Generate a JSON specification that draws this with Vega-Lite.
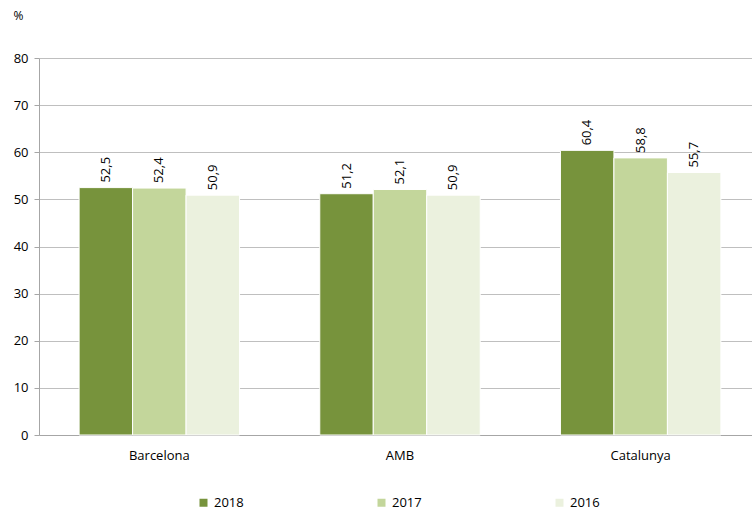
{
  "$schema": "https://vega.github.io/schema/vega-lite/v6.json",
  "autosize": {"type": "none"},
  "width": 713,
  "height": 377,
  "padding": {"left": 39, "top": 58, "right": 0, "bottom": 80},
  "background": "white",
  "config": {
    "locale": {"number": {"decimal": ",", "thousands": ".", "grouping": [3], "currency": ["", " €"]}},
    "font": "Open Sans",
    "view": {"stroke": null}
  },
  "data": {
    "values": [
      {"territori": "Barcelona", "any": "2018", "valor": 52.5},
      {"territori": "Barcelona", "any": "2017", "valor": 52.4},
      {"territori": "Barcelona", "any": "2016", "valor": 50.9},
      {"territori": "AMB", "any": "2018", "valor": 51.2},
      {"territori": "AMB", "any": "2017", "valor": 52.1},
      {"territori": "AMB", "any": "2016", "valor": 50.9},
      {"territori": "Catalunya", "any": "2018", "valor": 60.4},
      {"territori": "Catalunya", "any": "2017", "valor": 58.8},
      {"territori": "Catalunya", "any": "2016", "valor": 55.7}
    ]
  },
  "encoding": {
    "x": {
      "field": "territori", "type": "nominal", "sort": ["Barcelona", "AMB", "Catalunya"],
      "scale": {"paddingInner": 0, "paddingOuter": 0, "range": [0, 722]},
      "axis": {"title": null, "labelAngle": 0, "ticks": false, "domainColor": "#A6A6A6", "labelFontSize": 13, "labelColor": "#000", "labelPadding": 14, "labelFont": "Open Sans"}
    },
    "xOffset": {
      "field": "any", "type": "nominal", "sort": ["2018", "2017", "2016"],
      "scale": {"paddingInner": 0, "paddingOuter": 0.75}
    },
    "y": {
      "field": "valor", "type": "quantitative",
      "scale": {"domain": [0, 80]},
      "axis": {
        "values": [0, 10, 20, 30, 40, 50, 60, 70, 80],
        "title": "%", "titleAngle": 0, "titleX": -21, "titleY": -43, "titleFontSize": 12, "titleFontWeight": "normal", "titleColor": "#000", "titleAlign": "center", "titleBaseline": "middle",
        "gridColor": "#BFBFBF", "domainColor": "#A6A6A6", "tickColor": "#A6A6A6", "tickSize": 5,
        "labelFontSize": 13, "labelColor": "#000", "labelPadding": 6
      }
    }
  },
  "layer": [
    {
      "mark": {"type": "bar", "stroke": "white", "strokeWidth": 1},
      "encoding": {
        "color": {
          "field": "any", "type": "nominal", "sort": ["2018", "2017", "2016"],
          "scale": {"domain": ["2018", "2017", "2016"], "range": ["#77933C", "#C3D69B", "#EBF1DE"]},
          "legend": {
            "title": null, "orient": "none", "direction": "horizontal", "legendX": 158, "legendY": 438,
            "symbolType": "square", "symbolSize": 64, "symbolStrokeWidth": 0, "labelFontSize": 13, "labelColor": "#000",
            "columnPadding": 131, "labelOffset": 4
          }
        }
      }
    },
    {
      "mark": {"type": "text", "angle": -90, "align": "left", "baseline": "middle", "dx": 5, "fontSize": 13, "color": "#000"},
      "encoding": {
        "text": {"field": "valor", "type": "quantitative", "format": ".1f"}
      }
    }
  ]
}
